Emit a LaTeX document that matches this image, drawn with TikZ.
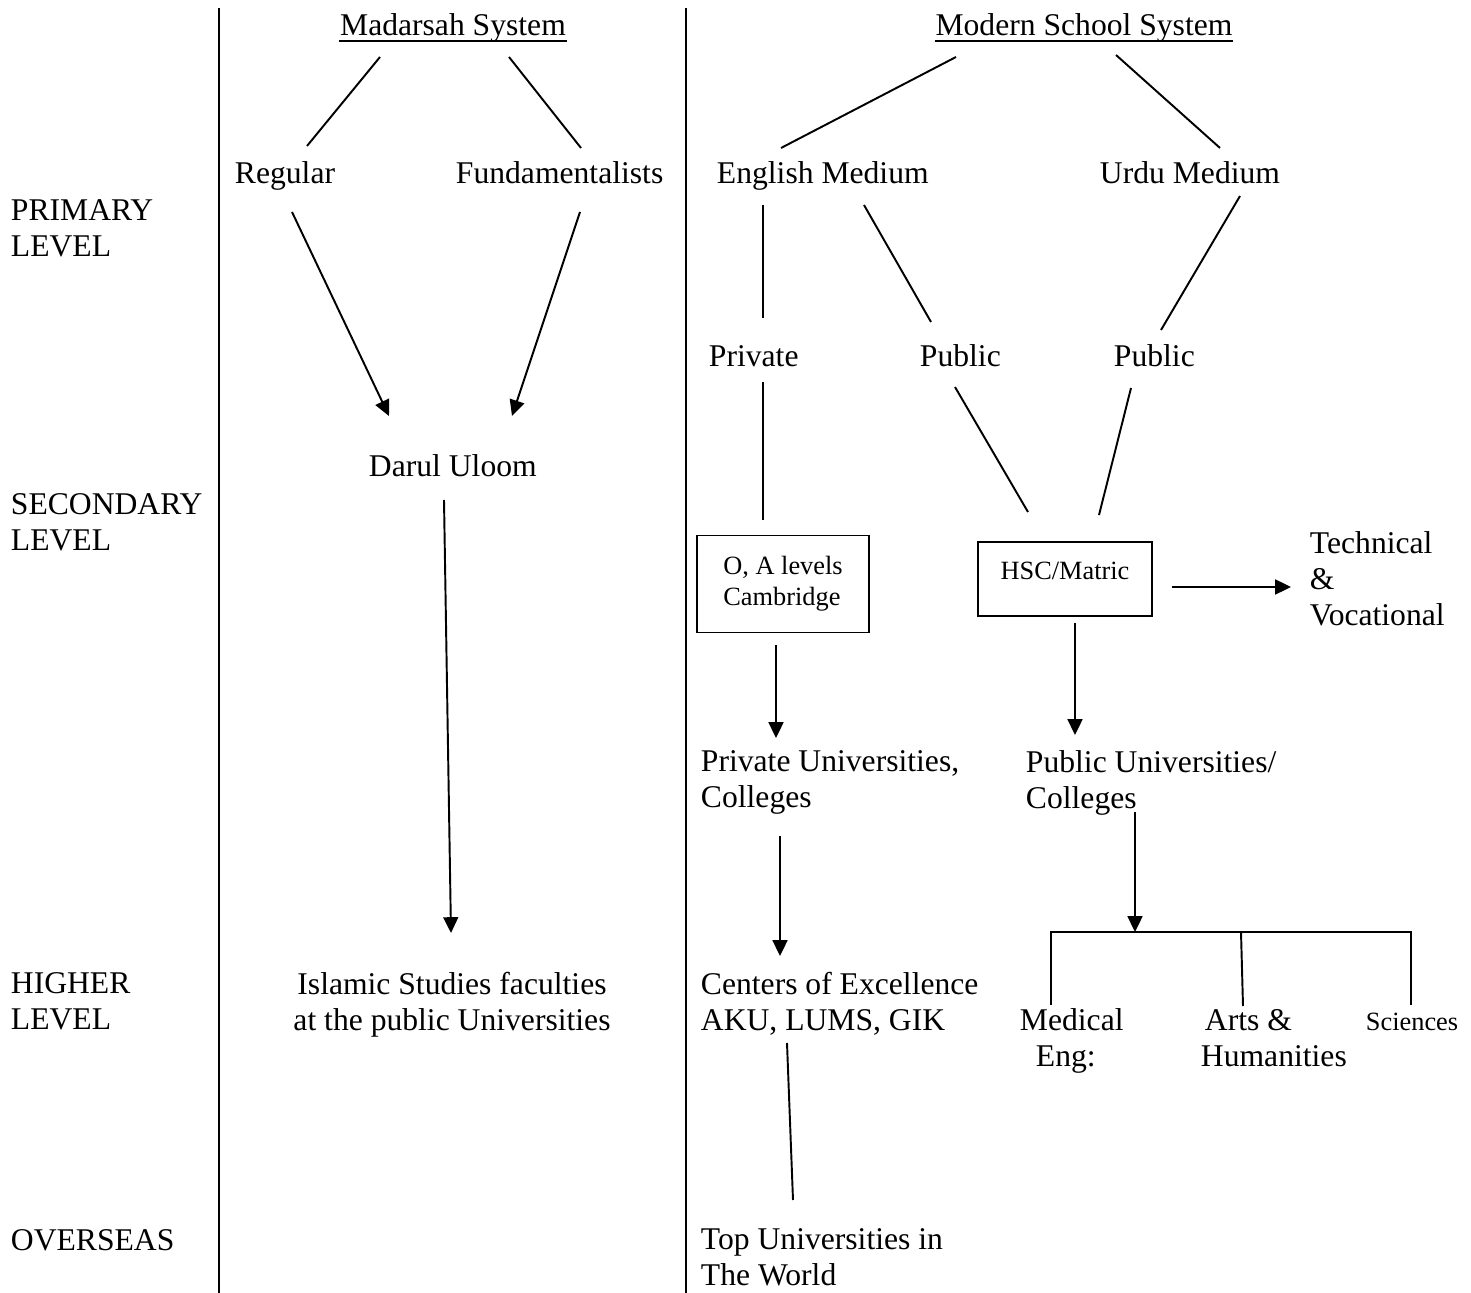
\documentclass[tikz,border=0pt]{standalone}
\usepackage{fontspec}
\setmainfont{Liberation Serif}
\usepackage{tikz}
\usetikzlibrary{calc,arrows.meta}
\newcommand{\bigtxt}{\fontsize{18}{20.5}\selectfont}
\newcommand{\smalltxt}{\fontsize{15}{17.6}\selectfont}

\begin{document}
\begin{tikzpicture}[x=0.02cm,y=-0.02cm,line width=1.1pt,
		txt/.style={inner sep=0pt,font=\bigtxt,align=left},
		arr/.style={-{Triangle[length=9pt,width=8.5pt]}},
		boxed/.style={draw,inner sep=0pt,font=\smalltxt,align=left}]
		\useasboundingbox (0,0) rectangle (1471,1293);
		\draw (219,8) -- (219,1293);
		\draw (686,8) -- (686,1293);
		% levels
		\node[txt,anchor=north west] (prim) at (10,199) {PRIMARY\\LEVEL};
		\node[txt,anchor=north west] (sec) at (10,493) {SECONDARY\\LEVEL};
		\node[txt,anchor=north west] (high) at (10,972) {HIGHER\\LEVEL};
		\node[txt,anchor=base west] (over) at (10,1250) {OVERSEAS};
		% madarsah side
		\node[txt,anchor=base] (mad) at (453,36) {Madarsah System};
		\draw[line width=0.9pt] ($(mad.base west)+(0,5)$) -- ($(mad.base east)+(0,5)$);
		\node[txt,anchor=base west] (reg) at (234,184) {Regular};
		\node[txt,anchor=base west] (fund) at (455,184) {Fundamentalists};
		\node[txt,anchor=base west] (darul) at (368,477) {Darul Uloom};
		\node[txt,align=center,anchor=north] (islam) at (452,971) {Islamic Studies faculties\\at the public Universities};
		\draw ($(mad.base)+(-73,21)$) -- ($(reg.base west)+(73,-38)$);
		\draw ($(mad.base)+(56,21)$) -- ($(fund.base west)+(126,-36)$);
		\draw[arr] ($(reg.base west)+(58,28)$) -- ($(darul.base west)+(21,-61)$);
		\draw[arr] ($(fund.base west)+(125,28)$) -- ($(darul.base west)+(144,-61)$);
		\draw[arr] ($(darul.base west)+(76,23)$) -- ($(islam.north)+(-1,-38)$);
		% modern side
		\node[txt,anchor=base] (modern) at (1084,36) {Modern School System};
		\draw[line width=0.9pt] ($(modern.base west)+(0,5)$) -- ($(modern.base east)+(0,5)$);
		\node[txt,anchor=base west] (eng) at (716,184) {English Medium};
		\node[txt,anchor=base west] (urdu) at (1099,184) {Urdu Medium};
		\node[txt,anchor=base west] (priv) at (708,367) {Private};
		\node[txt,anchor=base west] (pub1) at (919,367) {Public};
		\node[txt,anchor=base west] (pub2) at (1113,367) {Public};
		\node[boxed,minimum width=3.44cm,minimum height=1.94cm] (oa) at (783,584) {O, A levels\\Cambridge};
		\node[boxed,minimum width=3.48cm,minimum height=1.48cm,text depth=0.31cm] (hsc) at (1065,579) {HSC/Matric};
		\node[txt,anchor=north west] (tech) at (1309,531) {Technical\\\&\\Vocational};
		\node[txt,anchor=north west] (prvu) at (700,750) {Private Universities,\\Colleges};
		\node[txt,anchor=north west] (pubu) at (1025,750) {Public Universities/\\Colleges};
		\node[txt,anchor=north west] (cent) at (700,971) {Centers of Excellence\\AKU, LUMS, GIK};
		\node[txt,anchor=north west] (med) at (1019,1008) {Medical\\\hspace*{0.32cm}Eng:};
		\node[txt,anchor=north west] (arts) at (1200,1008) {\hspace*{0.08cm}Arts \&\\Humanities};
		\node[inner sep=0pt,font=\smalltxt,anchor=base west] (sci) at (1365,1030) {Sciences};
		\node[txt,anchor=north west] (top) at (700,1228) {Top Universities in\\The World};
		\coordinate (fork) at ($(pubu.north west)+(110,182)$);
		\draw ($(modern.base)+(-128,21)$) -- ($(eng.base west)+(65,-36)$);
		\draw ($(modern.base)+(32,19)$) -- ($(urdu.base west)+(121,-36)$);
		\draw ($(eng.base west)+(47,21)$) -- ($(priv.base west)+(55,-49)$);
		\draw ($(eng.base west)+(148,21)$) -- ($(pub1.base west)+(12,-45)$);
		\draw ($(urdu.base west)+(141,12)$) -- ($(pub2.base west)+(48,-37)$);
		\draw ($(priv.base west)+(55,15)$) -- ($(oa.north)+(-20,-15)$);
		\draw ($(pub1.base west)+(36,20)$) -- ($(hsc.north)+(-37,-29)$);
		\draw ($(pub2.base west)+(18,21)$) -- ($(hsc.north)+(34,-26)$);
		\draw[arr] ($(hsc.east)+(19,8)$) -- ($(tech.north west)+(-18,56)$);
		\draw[arr] ($(oa.south)+(-7,12)$) -- ($(prvu.north west)+(76,-12)$);
		\draw[arr] ($(hsc.south)+(10,6)$) -- ($(pubu.north west)+(50,-15)$);
		\draw[arr] ($(prvu.north west)+(80,86)$) -- ($(cent.north west)+(80,-15)$);
		\draw[arr] ($(pubu.north west)+(110,62)$) -- (fork);
		\draw ($(med.north west)+(32,-3)$) |- (fork) -| ($(sci.base west)+(46,-25)$);
		\draw ($(arts.north west)+(41,-76)$) -- ($(arts.north west)+(43,-2)$);
		\draw ($(cent.north west)+(87,72)$) -- ($(top.north west)+(93,-28)$);
\end{tikzpicture}
\end{document}
